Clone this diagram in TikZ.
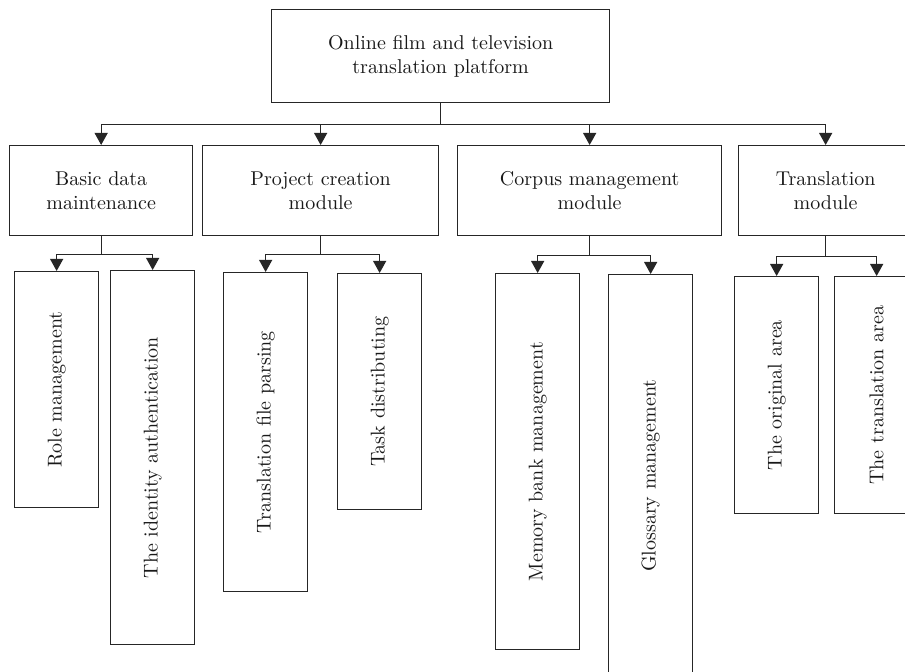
\documentclass[tikz,border=0pt]{standalone}
\usepackage{tikz}
\usetikzlibrary{arrows.meta,positioning}

\begin{document}
\begin{tikzpicture}[x=0.5pt, y=-0.5pt,
  box/.style={draw=black!85, line width=0.65pt, align=center, text=black!90,
    anchor=north west, inner sep=0pt},
  topbox/.style={box, minimum width=169pt, minimum height=46.5pt},
  midbox/.style={box, minimum height=45pt},
  leafbox/.style={box, minimum width=42pt},
  arr/.style={-{Triangle[length=6pt,width=6.5pt]}, draw=black!85, line width=0.6pt}
]
  \useasboundingbox (0,0) rectangle (905,672);
  \clip (0,0) rectangle (905,672);

  % root
  \node[topbox] (platform) at (271,9) {Online film and television\\translation platform};

  % modules
  \node[midbox, minimum width=91.5pt] (basic) at (9,145) {Basic data\\maintenance};
  \node[midbox, minimum width=118pt] (project) at (202,145) {Project creation\\module};
  \node[midbox, minimum width=132pt] (corpus) at (457,145) {Corpus management\\module};
  \node[midbox, minimum width=87pt] (transmod) at (738,145) {Translation\\module};

  % functions
  \node[leafbox, minimum height=118pt] (role) at (14,271) {\rotatebox{90}{Role management}};
  \node[leafbox, minimum height=187pt] (ident) at (110,270) {\rotatebox{90}{The identity authentication}};
  \node[leafbox, minimum height=159.5pt] (parse) at (223,272) {\rotatebox{90}{Translation file parsing}};
  \node[leafbox, minimum height=118pt] (task) at (337,273) {\rotatebox{90}{Task distributing}};
  \node[leafbox, minimum height=188pt] (memory) at (495,273) {\rotatebox{90}{Memory bank management}};
  \node[leafbox, minimum height=201pt] (glossary) at (608,274) {\rotatebox{90}{Glossary management}};
  \node[leafbox, minimum height=118.5pt] (original) at (734,276) {\rotatebox{90}{The original area}};
  \node[leafbox, minimum height=118.5pt] (transarea) at (834,276) {\rotatebox{90}{The translation area}};

  % root to modules
  \draw[arr] (platform.south) -- ++(0,21) -| (basic.north);
  \draw[arr] (platform.south) -- ++(0,21) -| (project.north);
  \draw[arr] (platform.south) -- ++(0,21) -| (corpus.north);
  \draw[arr] (platform.south) -- ++(0,21) -| (transmod.north);

  % modules to functions
  \draw[arr] (basic.south) -- ++(0,18) -| (role.north);
  \draw[arr] (basic.south) -- ++(0,18) -| (ident.north);
  \draw[arr] (project.south) -- ++(0,18) -| (parse.north);
  \draw[arr] (project.south) -- ++(0,18) -| (task.north);
  \draw[arr] (corpus.south) -- ++(0,19) -| (memory.north);
  \draw[arr] (corpus.south) -- ++(0,19) -| (glossary.north);
  \draw[arr] (transmod.south) -- ++(0,20) -| (original.north);
  \draw[arr] (transmod.south) -- ++(0,20) -| (transarea.north);
\end{tikzpicture}
\end{document}
